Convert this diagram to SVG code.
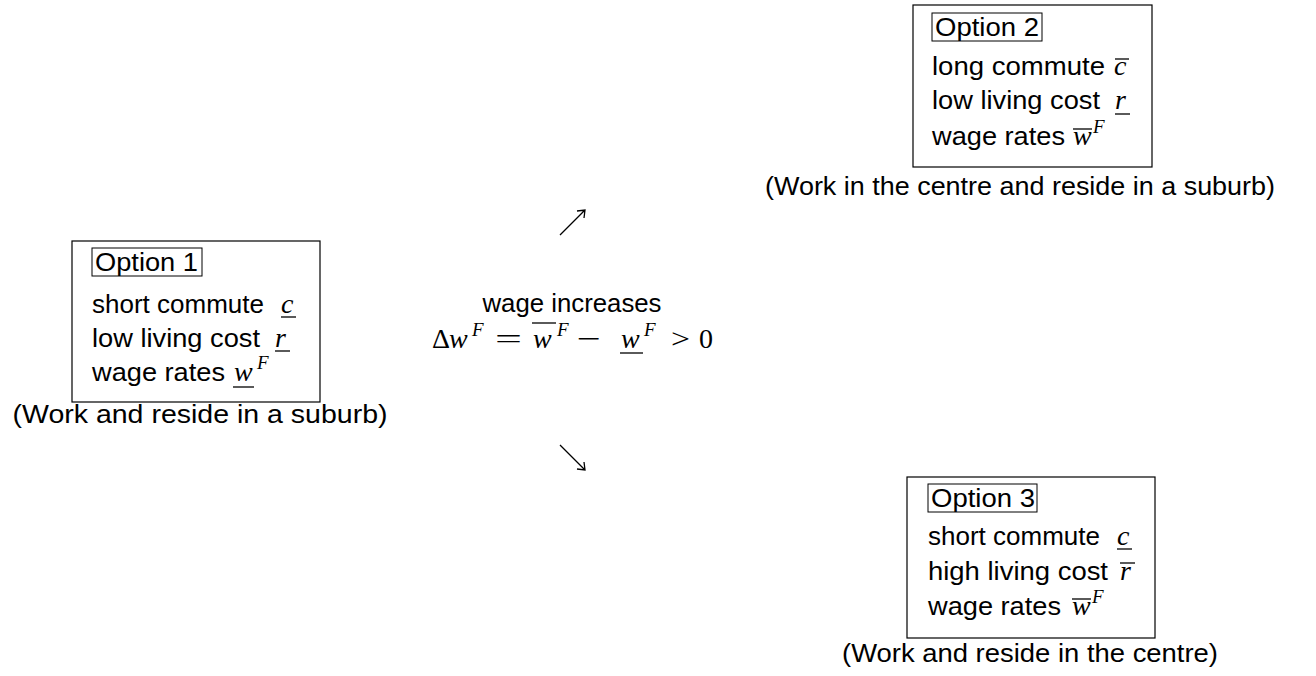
<svg xmlns="http://www.w3.org/2000/svg" width="1316" height="676" viewBox="0 0 1316 676">
<defs>
<style>
.s{font-family:"Liberation Sans",Arial,sans-serif;font-size:26px;fill:#000}
.m{font-family:"Liberation Serif","Times New Roman",serif;font-style:italic;font-size:28px;fill:#000}
.u{font-family:"Liberation Serif","Times New Roman",serif;font-size:28px;fill:#000}
.sup{font-family:"Liberation Serif","Times New Roman",serif;font-style:italic;font-size:19px;fill:#000}
.box{fill:none;stroke:#000;stroke-width:1.2}
.ibox{fill:none;stroke:#000;stroke-width:1}
.bar{stroke:#000;stroke-width:1.3}
.arr{stroke:#000;stroke-width:1.3;fill:none}
</style>
</defs>
<rect width="1316" height="676" fill="#fff"/>

<g id="option1">
<rect class="box" x="72" y="241" width="248" height="161"/>
<rect class="ibox" x="92" y="248" width="110" height="28"/>
<text class="s" x="95" y="271" textLength="103" lengthAdjust="spacingAndGlyphs">Option 1</text>
<text class="s" x="92" y="313" textLength="172" lengthAdjust="spacingAndGlyphs">short commute</text>
<text class="m" x="281" y="313">c</text>
<line class="bar" x1="281" y1="317" x2="296" y2="317"/>
<text class="s" x="92" y="347" textLength="168" lengthAdjust="spacingAndGlyphs">low living cost</text>
<text class="m" x="275" y="347">r</text>
<line class="bar" x1="275" y1="351" x2="290" y2="351"/>
<text class="s" x="92" y="381" textLength="133" lengthAdjust="spacingAndGlyphs">wage rates</text>
<text class="m" x="234" y="381">w</text>
<text class="sup" x="257" y="369">F</text>
<line class="bar" x1="233" y1="387" x2="254" y2="387"/>
<text class="s" x="200" y="423" text-anchor="middle" textLength="375" lengthAdjust="spacingAndGlyphs">(Work and reside in a suburb)</text>
</g>

<g id="option2">
<rect class="box" x="913" y="5" width="239" height="162"/>
<rect class="ibox" x="932" y="13" width="110" height="28"/>
<text class="s" x="935" y="36" textLength="104" lengthAdjust="spacingAndGlyphs">Option 2</text>
<text class="s" x="932" y="75" textLength="173" lengthAdjust="spacingAndGlyphs">long commute</text>
<text class="m" x="1114" y="75">c</text>
<line class="bar" x1="1115" y1="59" x2="1129" y2="59"/>
<text class="s" x="932" y="109" textLength="168" lengthAdjust="spacingAndGlyphs">low living cost</text>
<text class="m" x="1115" y="109">r</text>
<line class="bar" x1="1115" y1="114" x2="1130" y2="114"/>
<text class="s" x="932" y="145" textLength="133" lengthAdjust="spacingAndGlyphs">wage rates</text>
<text class="m" x="1073" y="145">w</text>
<text class="sup" x="1093" y="133">F</text>
<line class="bar" x1="1073" y1="129" x2="1092" y2="129"/>
<text class="s" x="1020" y="195" text-anchor="middle" textLength="510" lengthAdjust="spacingAndGlyphs">(Work in the centre and reside in a suburb)</text>
</g>

<g id="option3">
<rect class="box" x="907" y="477" width="248" height="161"/>
<rect class="ibox" x="928" y="484" width="109" height="28"/>
<text class="s" x="931" y="507" textLength="104" lengthAdjust="spacingAndGlyphs">Option 3</text>
<text class="s" x="928" y="545" textLength="172" lengthAdjust="spacingAndGlyphs">short commute</text>
<text class="m" x="1117" y="545">c</text>
<line class="bar" x1="1117" y1="549" x2="1132" y2="549"/>
<text class="s" x="928" y="580" textLength="180" lengthAdjust="spacingAndGlyphs">high living cost</text>
<text class="m" x="1120" y="580">r</text>
<line class="bar" x1="1120" y1="563" x2="1135" y2="563"/>
<text class="s" x="928" y="615" textLength="133" lengthAdjust="spacingAndGlyphs">wage rates</text>
<text class="m" x="1072" y="615">w</text>
<text class="sup" x="1092" y="603">F</text>
<line class="bar" x1="1072" y1="599" x2="1091" y2="599"/>
<text class="s" x="1030" y="662" text-anchor="middle" textLength="376" lengthAdjust="spacingAndGlyphs">(Work and reside in the centre)</text>
</g>

<g id="center">
<text class="s" x="572" y="312" text-anchor="middle" textLength="179" lengthAdjust="spacingAndGlyphs">wage increases</text>
<text class="u" x="432" y="348">Δ</text>
<text class="m" x="449" y="348">w</text>
<text class="sup" x="472" y="336">F</text>
<text class="u" x="495" y="348" textLength="27" lengthAdjust="spacingAndGlyphs">=</text>
<text class="m" x="533" y="348">w</text>
<line class="bar" x1="532" y1="323" x2="556" y2="323"/>
<text class="sup" x="557" y="336">F</text>
<text class="u" x="577" y="348" textLength="24" lengthAdjust="spacingAndGlyphs">−</text>
<text class="m" x="621" y="348">w</text>
<line class="bar" x1="620" y1="353" x2="643" y2="353"/>
<text class="sup" x="644" y="336">F</text>
<text class="u" x="671" y="348" textLength="19" lengthAdjust="spacingAndGlyphs">&gt;</text>
<text class="u" x="699" y="348">0</text>
</g>

<g id="connectors">
<path class="arr" d="M560,235 L585,210 M577,211 L585,210 L584,218"/>
<path class="arr" d="M560,445 L585,470 M577,469 L585,470 L584,462"/>
</g>
</svg>
